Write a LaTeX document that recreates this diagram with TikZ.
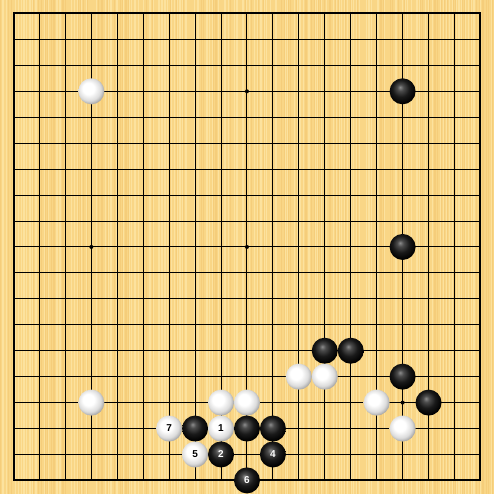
\documentclass[tikz,border=0pt]{standalone}
\usepackage{fontspec}
\setsansfont{Liberation Sans}
\definecolor{wood}{RGB}{249,214,134}
\definecolor{woodlight}{RGB}{253,229,165}
\definecolor{wooddark}{RGB}{243,200,115}
\pgfdeclareradialshading{wstone}{\pgfpoint{-7bp}{7bp}}{color(0bp)=(white); color(11bp)=(white); color(22bp)=(black!14); color(30bp)=(black!42); color(50bp)=(black!42)}
\pgfdeclareradialshading{bstone}{\pgfpoint{-5bp}{8bp}}{color(0bp)=(black!45); color(6bp)=(black!70); color(16bp)=(black!90); color(27bp)=(black); color(50bp)=(black)}
\tikzset{
  gridline/.style={line width=1pt, black},
  border/.style={line width=2pt, black},
  starpt/.style={circle, fill=black, inner sep=0pt, minimum size=4pt},
  stonebase/.style={circle, inner sep=0pt, minimum size=26pt, font=\sffamily\bfseries\fontsize{10}{10}\selectfont},
  wst/.style={stonebase, shading=wstone, text=black},
  bst/.style={stonebase, shading=bstone, text=white},
}
\begin{document}
\begin{tikzpicture}[x=1pt,y=-1pt]
\useasboundingbox (0,0) rectangle (494,494);
\fill[wood] (0,0) rectangle (494,494);
\pgfmathsetseed{7}
\foreach \s in {0,1.5,...,493} {
  \pgfmathsetmacro{\r}{rnd}
  \ifdim\r pt<0.4pt
    \fill[woodlight, opacity=0.8] (\s,0) rectangle (\s+1,494);
  \else
    \ifdim\r pt>0.75pt
      \fill[wooddark, opacity=0.6] (\s,0) rectangle (\s+1,494);
    \fi
  \fi
}
\foreach \k in {1,...,17} {
  \draw[gridline] (\k*25.94+13.5,13.5) -- (\k*25.94+13.5,480.42);
  \draw[gridline] (13.5,\k*25.94+13.5) -- (480.42,\k*25.94+13.5);
}
\draw[border] (13.5,13.5) rectangle (480.42,480.42);
\foreach \i in {3,9,15} \foreach \j in {3,9,15}
  \node[starpt] (hoshi-\i-\j) at (\i*25.94+13.5,\j*25.94+13.5) {};
\foreach \c/\i/\j/\t in {w/3/3/, b/15/3/, b/15/9/, b/12/13/, b/13/13/, w/11/14/, w/12/14/, b/15/14/,
  w/3/15/, w/8/15/, w/9/15/, w/14/15/, b/16/15/, w/6/16/7, b/7/16/, w/8/16/1, b/9/16/, b/10/16/,
  w/15/16/, w/7/17/5, b/8/17/2, b/10/17/4, b/9/18/6}
  \node[\c st] (stone-\i-\j) at (\i*25.94+13.5,\j*25.94+13.5) {\t};
\end{tikzpicture}
\end{document}
